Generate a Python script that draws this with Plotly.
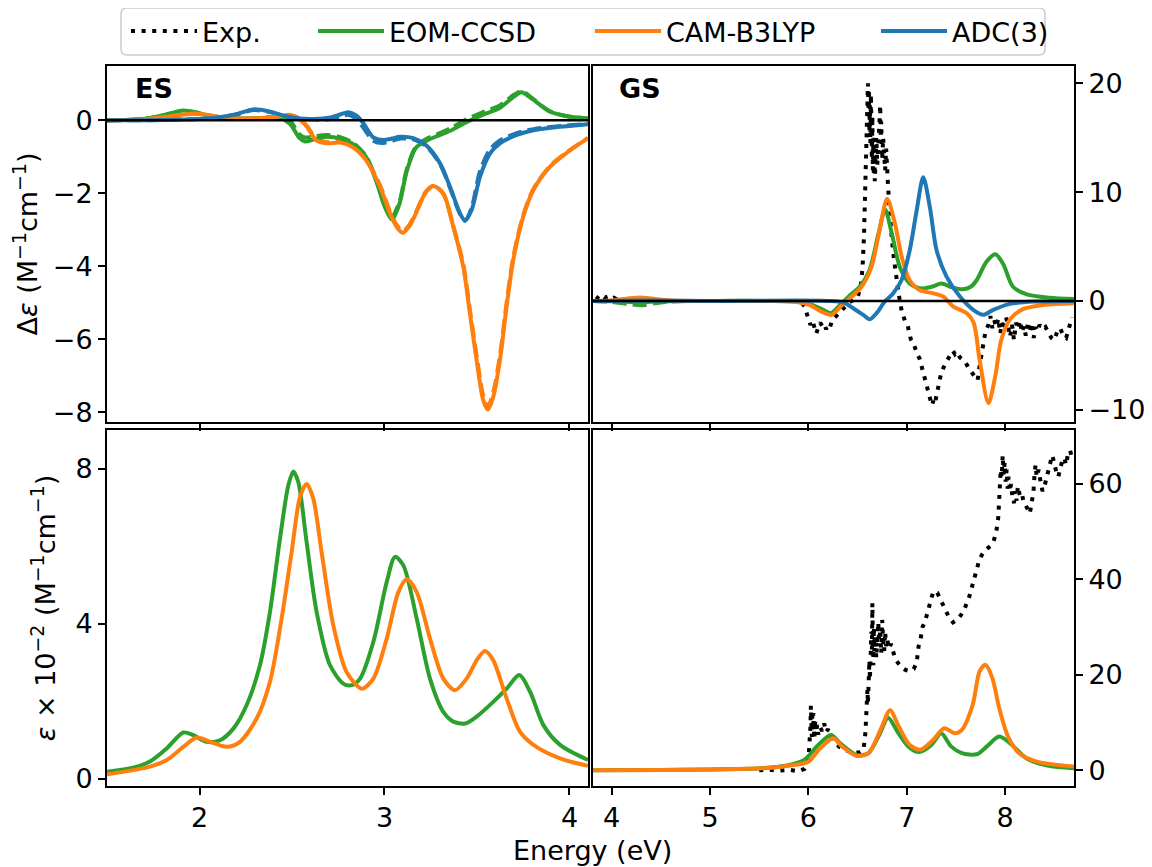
import plotly.graph_objects as go

# ---------------- data ----------------
# ES panel, CD (Delta epsilon)
es_cd_green_E = [1.50,1.65,1.75,1.85,1.91,1.98,2.05,2.15,2.25,2.35,2.43,2.49,2.54,2.57,2.62,2.69,2.76,2.83,2.90,2.96,3.00,3.04,3.08,3.12,3.17,3.23,3.30,3.37,3.44,3.53,3.62,3.70,3.74,3.80,3.89,3.98,4.10]
es_cd_green = [0.00,0.02,0.08,0.20,0.27,0.22,0.12,0.07,0.05,0.06,0.08,-0.10,-0.48,-0.58,-0.52,-0.45,-0.50,-0.65,-1.00,-1.73,-2.35,-2.72,-2.30,-1.40,-0.75,-0.55,-0.40,-0.25,-0.06,0.15,0.33,0.65,0.77,0.58,0.25,0.12,0.05]
es_cd_green_dash = [0.00,0.02,0.08,0.19,0.25,0.21,0.12,0.07,0.05,0.07,0.10,-0.02,-0.38,-0.47,-0.44,-0.40,-0.46,-0.62,-0.98,-1.70,-2.30,-2.62,-2.25,-1.35,-0.72,-0.50,-0.35,-0.18,0.02,0.22,0.40,0.70,0.80,0.60,0.26,0.12,0.05]

es_cd_orange_E = [1.50,1.70,1.85,1.97,2.03,2.12,2.22,2.32,2.42,2.49,2.53,2.58,2.63,2.69,2.76,2.83,2.90,2.976,3.03,3.07,3.10,3.135,3.17,3.22,3.264,3.318,3.372,3.426,3.462,3.498,3.534,3.558,3.588,3.624,3.66,3.696,3.75,3.805,3.895,3.985,4.10]
es_cd_orange = [0.00,0.03,0.12,0.19,0.16,0.08,0.05,0.06,0.10,0.15,0.08,-0.17,-0.54,-0.63,-0.61,-0.74,-1.09,-1.82,-2.55,-2.95,-3.08,-2.90,-2.55,-2.00,-1.80,-2.00,-2.92,-4.02,-5.30,-6.58,-7.68,-7.93,-7.58,-6.58,-5.11,-3.83,-2.64,-1.91,-1.27,-0.89,-0.49]
es_cd_orange_dash = [0.00,0.03,0.12,0.18,0.15,0.08,0.05,0.06,0.10,0.14,0.07,-0.15,-0.50,-0.60,-0.59,-0.72,-1.06,-1.78,-2.50,-2.90,-3.03,-2.86,-2.52,-1.98,-1.80,-2.02,-2.90,-3.95,-5.20,-6.45,-7.55,-7.85,-7.45,-6.45,-5.00,-3.75,-2.60,-1.88,-1.25,-0.88,-0.48]

es_cd_blue_E = [1.50,1.80,2.00,2.10,2.20,2.29,2.38,2.46,2.54,2.62,2.70,2.76,2.805,2.85,2.886,2.94,2.994,3.04,3.084,3.156,3.228,3.30,3.354,3.408,3.435,3.471,3.516,3.57,3.624,3.715,3.805,3.90,3.985,4.10]
es_cd_blue = [0.00,0.01,0.04,0.08,0.17,0.30,0.24,0.12,0.05,0.04,0.07,0.16,0.22,0.12,-0.08,-0.47,-0.54,-0.50,-0.45,-0.49,-0.70,-1.18,-1.82,-2.55,-2.75,-2.46,-1.55,-0.91,-0.63,-0.40,-0.27,-0.20,-0.16,-0.11]
es_cd_blue_dash = [0.00,0.01,0.04,0.08,0.16,0.28,0.23,0.11,0.04,0.02,0.03,0.10,0.15,0.02,-0.20,-0.56,-0.62,-0.56,-0.50,-0.52,-0.72,-1.20,-1.85,-2.56,-2.75,-2.40,-1.40,-0.80,-0.55,-0.35,-0.24,-0.18,-0.14,-0.10]

# ES panel, absorption (epsilon x 1e-2)
es_abs_green_E = [1.50,1.642,1.732,1.823,1.913,1.967,2.039,2.111,2.183,2.255,2.327,2.381,2.435,2.48,2.507,2.534,2.579,2.633,2.705,2.777,2.823,2.868,2.94,3.012,3.057,3.102,3.174,3.246,3.318,3.372,3.435,3.498,3.588,3.66,3.729,3.787,3.859,3.949,4.10]
es_abs_green = [0.19,0.29,0.45,0.79,1.20,1.13,0.96,1.00,1.30,1.91,2.94,4.31,6.20,7.57,7.93,7.66,6.11,4.31,2.94,2.46,2.42,2.59,3.54,5.08,5.73,5.51,4.14,2.59,1.73,1.48,1.43,1.61,1.99,2.33,2.68,2.25,1.39,0.88,0.49]
es_abs_orange_E = [1.50,1.732,1.823,1.913,1.985,2.057,2.147,2.219,2.309,2.381,2.444,2.498,2.543,2.579,2.615,2.66,2.723,2.795,2.877,2.94,3.012,3.075,3.12,3.174,3.246,3.318,3.381,3.444,3.498,3.543,3.588,3.66,3.732,3.805,3.949,4.10]
es_abs_orange = [0.12,0.32,0.49,0.83,1.07,0.96,0.83,0.96,1.56,2.51,4.14,5.85,7.27,7.61,7.23,5.85,3.97,2.76,2.33,2.59,3.62,4.82,5.15,4.82,3.62,2.59,2.29,2.59,3.06,3.30,3.06,2.08,1.22,0.88,0.53,0.34]

# GS panel, CD
gs_cd_exp_E = [3.84,3.87,3.90,3.93,3.96,3.99,4.02,4.06,4.10,4.20,4.50,5.00,5.50,5.80,5.92,
               5.96,5.99,6.02,6.04,6.06,6.08,6.10,6.12,6.14,6.16,6.18,6.20,6.22,6.24,6.26,6.30,6.34,6.38,6.42,6.46,6.50,6.53,6.55,
               6.565,6.575,6.585,6.595,6.60,6.605,6.61,6.615,6.62,6.625,6.63,6.635,6.64,6.645,6.65,6.655,6.66,6.665,6.67,6.675,6.68,6.69,6.70,6.71,6.72,6.73,6.735,6.74,6.75,6.76,6.77,6.78,6.79,6.80,6.81,6.82,6.835,6.85,6.87,6.89,
               6.92,6.95,6.98,7.01,7.04,7.07,7.10,7.13,7.16,7.19,7.22,7.24,7.255,7.27,7.285,7.30,7.315,7.33,7.35,7.38,7.41,7.44,7.47,7.49,7.51,7.54,7.57,7.60,7.63,7.66,7.69,7.72,7.74,7.76,7.78,7.80,7.83,7.85,7.87,7.89,7.91,7.93,7.95,7.97,7.99,
               8.01,8.03,8.05,8.07,8.09,8.11,8.13,8.15,8.17,8.19,8.21,8.23,8.25,8.27,8.29,8.31,8.33,8.35,8.38,8.41,8.44,8.47,8.50,8.53,8.56,8.59,8.62,8.65,8.68]
gs_cd_exp = [0.4,0.2,0.5,0.3,0.4,0.2,0.3,0.1,0.2,0.1,0.0,0.0,0.0,0.0,0.0,
             -0.5,-1.5,-2.2,-1.8,-2.6,-3.0,-2.4,-2.0,-2.3,-2.1,-2.6,-2.2,-2.4,-1.8,-1.6,-1.2,-0.8,-0.4,-0.1,0.1,0.4,1.2,3.0,
             6.0,9.5,13.0,16.0,18.5,20.0,17.5,19.5,15.5,18.0,14.5,19.0,16.0,13.0,17.0,12.0,15.0,11.5,14.0,11.0,13.5,15.0,12.5,13.8,16.0,18.0,14.5,16.5,13.0,15.0,13.5,12.0,14.0,11.0,10.5,9.0,7.0,5.5,3.8,2.2,
             0.5,-1.0,-1.8,-2.3,-3.5,-3.9,-4.8,-5.3,-6.3,-7.2,-8.5,-9.0,-9.6,-9.2,-9.5,-8.8,-8.2,-7.2,-6.6,-6.0,-5.4,-5.0,-4.6,-4.9,-4.7,-5.2,-5.4,-5.7,-6.2,-6.6,-7.0,-7.3,-6.0,-4.8,-4.0,-2.8,-2.2,-1.4,-2.5,-1.8,-2.4,-1.6,-3.0,-2.0,-2.7,
             -1.5,-2.4,-3.3,-2.2,-3.6,-2.0,-2.6,-1.8,-2.9,-2.3,-3.2,-2.1,-2.6,-2.0,-3.4,-2.4,-2.8,-2.2,-2.6,-2.4,-3.0,-3.4,-3.6,-2.8,-2.5,-3.2,-3.4,-2.4,-1.5]

gs_cd_green_E = [3.81,4.00,4.15,4.30,4.45,4.60,5.00,5.60,5.85,6.01,6.15,6.23,6.32,6.42,6.52,6.62,6.71,6.78,6.85,6.93,7.03,7.10,7.17,7.27,7.35,7.46,7.57,7.65,7.71,7.81,7.90,7.98,8.08,8.22,8.45,8.70]
gs_cd_green = [0.0,-0.03,-0.08,-0.12,-0.06,-0.02,0.0,0.0,-0.05,-0.27,-0.82,-1.13,-0.40,0.50,1.30,2.80,6.10,8.40,6.10,3.10,1.60,1.25,1.15,1.35,1.60,1.25,1.07,1.30,1.90,3.60,4.30,3.40,1.30,0.60,0.30,0.18]
gs_cd_green_dash_E = [3.81,4.00,4.15,4.30,4.45,4.60,5.00]
gs_cd_green_dash = [0.0,-0.08,-0.25,-0.40,-0.20,-0.05,0.0]

gs_cd_orange_E = [3.81,4.00,4.15,4.29,4.42,4.60,5.00,5.60,5.85,6.01,6.13,6.235,6.34,6.44,6.54,6.64,6.73,6.80,6.88,6.95,7.03,7.13,7.27,7.37,7.47,7.61,7.68,7.74,7.83,7.90,7.96,8.05,8.18,8.39,8.70]
gs_cd_orange = [0.0,0.05,0.20,0.32,0.20,0.05,0.0,0.0,-0.05,-0.37,-0.98,-1.28,-0.40,0.40,1.30,3.10,6.80,9.40,7.10,4.00,1.90,1.00,0.70,0.40,-0.50,-1.13,-2.00,-5.40,-9.40,-6.90,-3.60,-1.70,-0.76,-0.37,-0.21]

gs_cd_blue_E = [3.81,4.30,5.00,6.20,6.36,6.455,6.557,6.624,6.692,6.777,6.862,6.947,7.03,7.10,7.167,7.235,7.303,7.404,7.54,7.676,7.777,7.879,8.048,8.30,8.70]
gs_cd_blue = [0.0,0.05,0.0,0.0,-0.15,-0.67,-1.28,-1.68,-1.13,-0.06,0.70,1.92,4.66,8.30,11.37,8.60,4.66,2.23,0.40,-0.82,-1.28,-0.82,-0.27,-0.06,0.0]

# GS panel, absorption
gs_abs_exp_E = [5.50,5.60,5.70,5.80,5.90,5.96,6.00,6.01,6.02,6.025,6.03,6.035,6.04,6.045,6.05,6.055,6.06,6.07,6.08,6.09,6.10,6.12,6.14,6.16,6.18,6.20,6.23,6.27,6.31,6.36,6.42,6.47,6.52,6.56,
                6.58,6.59,6.60,6.605,6.61,6.615,6.62,6.625,6.63,6.635,6.64,6.645,6.65,6.655,6.66,6.665,6.67,6.68,6.69,6.70,6.71,6.72,6.73,6.74,6.75,6.76,6.77,6.78,6.79,6.80,6.82,6.84,6.86,6.88,
                6.91,6.95,6.99,7.03,7.07,7.10,7.12,7.14,7.16,7.19,7.23,7.27,7.31,7.35,7.39,7.43,7.47,7.51,7.55,7.59,7.63,7.67,7.70,7.73,7.76,7.79,7.82,7.85,7.88,7.91,7.93,
                7.945,7.955,7.965,7.975,7.985,7.995,8.005,8.015,8.025,8.035,8.05,8.06,8.075,8.09,8.10,8.115,8.13,8.15,8.17,8.19,8.21,8.23,8.25,8.27,8.29,8.30,8.31,8.32,8.34,8.36,8.38,8.40,8.42,8.44,8.46,8.48,8.50,8.52,8.54,8.56,8.58,8.60,8.62,8.64,8.66,8.68,8.70]
gs_abs_exp = [0.0,0.1,-0.1,0.1,-0.2,0.3,2.0,5.0,9.0,13.5,10.5,7.0,11.5,8.5,12.0,9.0,6.5,10.5,8.0,9.5,7.5,9.0,8.2,9.8,8.0,8.6,7.0,6.0,5.0,4.3,3.9,3.6,3.8,4.3,
              8.0,13.0,17.0,14.0,20.0,16.5,23.0,19.0,26.0,21.0,29.0,24.0,35.0,27.0,22.0,30.0,25.0,28.0,23.5,27.5,31.0,26.0,29.5,24.5,31.5,27.0,25.0,29.0,26.0,27.5,25.5,26.5,24.5,23.5,
              22.5,21.5,21.0,20.8,21.2,22.5,26.0,27.5,30.0,31.5,34.5,37.5,37.2,35.5,33.5,32.0,31.0,31.5,32.5,34.0,36.0,39.0,41.5,43.5,45.0,46.0,46.5,47.0,47.8,50.0,53.0,
              59.0,63.0,61.5,66.0,62.0,64.5,60.5,63.0,59.0,61.5,58.5,60.0,57.0,56.0,58.5,56.5,59.5,57.5,58.0,56.0,55.5,54.5,53.8,56.0,59.0,62.5,64.0,61.5,63.0,60.5,58.5,59.5,61.5,63.5,64.5,66.0,64.0,62.5,61.5,63.5,64.8,65.5,64.0,66.5,67.0,65.5,66.0]

gs_abs_green_E = [3.81,4.50,5.00,5.30,5.52,5.70,5.81,5.96,6.10,6.23,6.32,6.49,6.61,6.72,6.81,6.905,7.015,7.124,7.25,7.35,7.45,7.56,7.71,7.815,7.94,8.07,8.215,8.43,8.70]
gs_abs_green = [0.0,0.05,0.15,0.25,0.42,0.75,1.1,2.2,5.3,7.4,5.7,3.2,3.6,7.4,11.0,8.1,5.0,3.8,5.3,7.75,5.0,3.6,3.35,5.0,7.05,5.3,2.5,0.98,0.42]
gs_abs_orange_E = [3.81,4.50,5.00,5.30,5.52,5.70,5.81,6.00,6.12,6.25,6.34,6.49,6.61,6.74,6.83,6.92,7.03,7.14,7.27,7.38,7.49,7.56,7.67,7.74,7.80,7.87,7.94,8.03,8.14,8.32,8.70]
gs_abs_orange = [0.0,0.05,0.15,0.25,0.40,0.70,1.0,1.8,4.6,6.7,5.0,3.0,3.6,8.8,12.6,9.1,5.3,4.3,6.4,8.8,7.75,8.45,13.7,20.7,22.1,19.3,13.0,7.05,3.6,1.8,0.77]

legend_names = ["Exp.", "EOM-CCSD", "CAM-B3LYP", "ADC(3)"]

# ---------------- style ----------------
GREEN = "#2ca02c"
ORANGE = "#ff7f0e"
BLUE = "#1f77b4"
FONT = "DejaVu Sans"
FS = 27
LW = 4

# page has an 8px body margin: shift the figure so the plot area lands where intended
W, H = 1144, 859
ML, MR, MT, MB = 99, 78, 58, 81
PW = W - ML - MR   # 967
PH = H - MT - MB   # 720

def px_x(p):   # page x (px) -> paper x
    return (p - 8 - ML) / PW

def px_y(p):   # page y (px) -> paper y
    return (H - MB - (p - 8)) / PH

fig = go.Figure()

def curve(x, y, color, xa, ya, legend=None, name=None, dash=None, shape="spline"):
    fig.add_trace(go.Scatter(
        x=x, y=y, mode="lines", name=name if name else "",
        showlegend=legend is not None, legend=legend if legend else "legend",
        line=dict(color=color, width=LW, dash=dash, shape=shape, smoothing=0.8),
        xaxis=xa, yaxis=ya, hoverinfo="skip"))

DOT = "4px,6.6px"
DASH = "14px,6px"

curve(gs_cd_exp_E, gs_cd_exp, "black", "x2", "y2", legend="legend", name=legend_names[0], dash=DOT, shape="linear")
curve(gs_abs_exp_E, gs_abs_exp, "black", "x4", "y4", dash=DOT, shape="linear")

# ES CD
curve(es_cd_green_E, es_cd_green_dash, GREEN, "x", "y", dash=DASH)
curve(es_cd_orange_E, es_cd_orange_dash, ORANGE, "x", "y", dash=DASH)
curve(es_cd_blue_E, es_cd_blue_dash, BLUE, "x", "y", dash=DASH)
curve(es_cd_green_E, es_cd_green, GREEN, "x", "y", legend="legend2", name=legend_names[1])
curve(es_cd_orange_E, es_cd_orange, ORANGE, "x", "y", legend="legend3", name=legend_names[2])
curve(es_cd_blue_E, es_cd_blue, BLUE, "x", "y", legend="legend4", name=legend_names[3])

# GS CD
curve(gs_cd_green_dash_E, gs_cd_green_dash, GREEN, "x2", "y2", dash=DASH)
curve(gs_cd_green_E, gs_cd_green, GREEN, "x2", "y2")
curve(gs_cd_orange_E, gs_cd_orange, ORANGE, "x2", "y2")
curve(gs_cd_blue_E, gs_cd_blue, BLUE, "x2", "y2")

# ES abs
curve(es_abs_green_E, es_abs_green, GREEN, "x3", "y3")
curve(es_abs_orange_E, es_abs_orange, ORANGE, "x3", "y3")

# GS abs
curve(gs_abs_green_E, gs_abs_green, GREEN, "x4", "y4")
curve(gs_abs_orange_E, gs_abs_orange, ORANGE, "x4", "y4")

axis_common = dict(showline=True, linecolor="black", linewidth=2, mirror=True,
                   ticks="outside", ticklen=7, tickwidth=1.8, tickcolor="black",
                   showgrid=False, zeroline=False,
                   tickfont=dict(family=FONT, size=FS, color="black"))

xl = [0.0, 0.4974]
xr = [0.5026, 1.0]
yt = [0.5056, 1.0]
yb = [0.0, 0.4944]

def leg(page_x):
    return dict(orientation="h", x=px_x(page_x), y=px_y(31.5), xanchor="left", yanchor="middle",
                bgcolor="rgba(0,0,0,0)", borderwidth=0, itemwidth=66,
                font=dict(family=FONT, size=FS, color="black"))

# rounded legend frame
bx0, bx1, by0, by1 = px_x(121), px_x(1045), px_y(55), px_y(8)
rx, ry = 6 / PW, 6 / PH
frame = (f"M{bx0+rx},{by1} L{bx1-rx},{by1} Q{bx1},{by1} {bx1},{by1-ry} "
         f"L{bx1},{by0+ry} Q{bx1},{by0} {bx1-rx},{by0} L{bx0+rx},{by0} "
         f"Q{bx0},{by0} {bx0},{by0+ry} L{bx0},{by1-ry} Q{bx0},{by1} {bx0+rx},{by1} Z")

fig.update_layout(
    width=W, height=H,
    margin=dict(l=ML, r=MR, t=MT, b=MB, autoexpand=False),
    paper_bgcolor="white", plot_bgcolor="white",
    font=dict(family=FONT, size=FS, color="black"),
    xaxis=dict(domain=xl, range=[1.5, 4.1], anchor="y", tickvals=[2, 3, 4], showticklabels=False, **axis_common),
    xaxis2=dict(domain=xr, range=[3.81, 8.70], anchor="y2", tickvals=[4, 5, 6, 7, 8], showticklabels=False, **axis_common),
    xaxis3=dict(domain=xl, range=[1.5, 4.1], anchor="y3", tickvals=[2, 3, 4], **axis_common),
    xaxis4=dict(domain=xr, range=[3.81, 8.70], anchor="y4", tickvals=[4, 5, 6, 7, 8], **axis_common),
    yaxis=dict(domain=yt, range=[-8.27, 1.49], anchor="x", tickvals=[-8, -6, -4, -2, 0],
               title=dict(text="Δ<i>ε</i> (M<sup>−1</sup>cm<sup>−1</sup>)", standoff=12,
                          font=dict(family=FONT, size=FS)), **axis_common),
    yaxis2=dict(domain=yt, range=[-11.13, 21.6], anchor="x2", side="right", tickvals=[-10, 0, 10, 20], **axis_common),
    yaxis3=dict(domain=yb, range=[-0.18, 9.0], anchor="x3", tickvals=[0, 4, 8],
                title=dict(text="<i>ε</i> × 10<sup>−2</sup> (M<sup>−1</sup>cm<sup>−1</sup>)", standoff=12,
                           font=dict(family=FONT, size=FS)), **axis_common),
    yaxis4=dict(domain=yb, range=[-3.3, 71.3], anchor="x4", side="right", tickvals=[0, 20, 40, 60], **axis_common),
    legend=leg(126),
    legend2=leg(313),
    legend3=leg(590),
    legend4=leg(876),
    shapes=[
        dict(type="path", xref="paper", yref="paper", path=frame,
             line=dict(color="#cccccc", width=1.5), fillcolor="white", layer="above"),
        dict(type="line", xref="x domain", x0=0, x1=1, yref="y", y0=0, y1=0,
             line=dict(color="black", width=2.5), layer="above"),
        dict(type="line", xref="x2 domain", x0=0, x1=1, yref="y2", y0=0, y1=0,
             line=dict(color="black", width=2.5), layer="above"),
    ],
    annotations=[
        dict(text="<b>ES</b>", xref="x domain", yref="y domain", x=0.054, y=0.938,
             xanchor="left", yanchor="middle", showarrow=False, font=dict(family=FONT, size=FS)),
        dict(text="<b>GS</b>", xref="x2 domain", yref="y2 domain", x=0.05, y=0.938,
             xanchor="left", yanchor="middle", showarrow=False, font=dict(family=FONT, size=FS)),
        dict(text="Energy (eV)", xref="paper", yref="paper", x=0.5016, y=px_y(851),
             xanchor="center", yanchor="middle", showarrow=False, font=dict(family=FONT, size=FS)),
    ],
)

fig.write_html("out.html")
